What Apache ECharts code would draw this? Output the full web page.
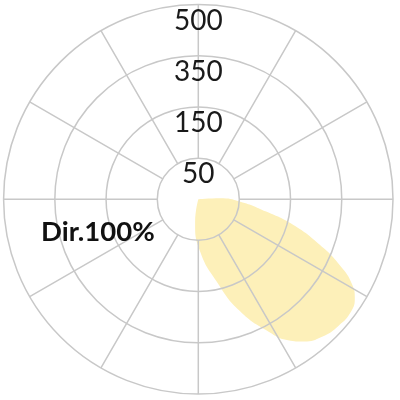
<!DOCTYPE html>
<html><head><meta charset="utf-8">
<script src="https://cdn.jsdelivr.net/npm/echarts@6/dist/echarts.min.js"></script>
<style>html,body{margin:0;padding:0;background:#fff}#c{width:400px;height:400px}</style>
</head><body><div id="c"></div>
<script>
// Ring (radius) tick labels, inner to outer
const ringLabels = ['50', '150', '350', '500'];
// Beam outline: angle in degrees (0 = straight down, positive = to the right)
const beamAngles = [-11, -8, 2, 12.6, 20.4, 28, 32.5, 36.6, 42, 48, 53.6, 57.8, 61, 65, 69.4, 74.9, 79.7, 86.7, 92.6, 96];
// Beam intensity at each angle (outer ring = 500)
const beamValues = [0, 59, 134, 216, 306, 385, 429, 455, 475, 485, 487, 475, 452, 401, 334, 252, 177, 108, 56, 0];
const titleText = 'Dir.100%';

const chart = echarts.init(document.getElementById('c'), null, {renderer: 'canvas'});
const gridColor = '#c8c8c8';
const center = [198.3, 199.3];
const option = {
  animation: false,
  polar: [
    {center: center, radius: [41, 194.7]},
    {center: center, radius: [0, 194.7]}
  ],
  angleAxis: [
    {polarIndex: 0, type: 'value', min: -180, max: 180, interval: 30, startAngle: 90, clockwise: false, z: 5,
     axisLine: {show: false}, axisTick: {show: false}, axisLabel: {show: false},
     splitLine: {show: true, lineStyle: {color: gridColor, width: 1.5}}},
    {polarIndex: 1, type: 'value', min: -180, max: 180, startAngle: 90, clockwise: false, show: false}
  ],
  radiusAxis: [
    {polarIndex: 0, type: 'category', data: ringLabels, boundaryGap: false, z: 5,
     axisLine: {show: false}, axisTick: {show: false},
     axisLabel: {interval: 0, margin: 0, align: 'center', verticalAlign: 'top', padding: [2, 0, 0, 0],
                 fontFamily: 'Lato', fontSize: 28, color: '#1a1a1a'},
     splitLine: {show: true, interval: 0, lineStyle: {color: gridColor, width: 1.5}}},
    {polarIndex: 1, type: 'value', min: 0, max: 500, show: false}
  ],
  series: [{
    type: 'line', coordinateSystem: 'polar', polarIndex: 1,
    data: beamValues.map((v, i) => [v, beamAngles[i]]),
    smooth: true, showSymbol: false, symbol: 'none', clip: false, z: 1,
    lineStyle: {width: 0},
    areaStyle: {color: '#fdf0b9', opacity: 1}
  }],
  graphic: [{
    type: 'text', x: 41, y: 232, z: 10,
    style: {text: titleText, fontFamily: 'Lato', fontWeight: 'bold', fontSize: 27.5, fill: '#111', verticalAlign: 'middle'}
  }]
};
chart.setOption(option);
</script></body></html>
